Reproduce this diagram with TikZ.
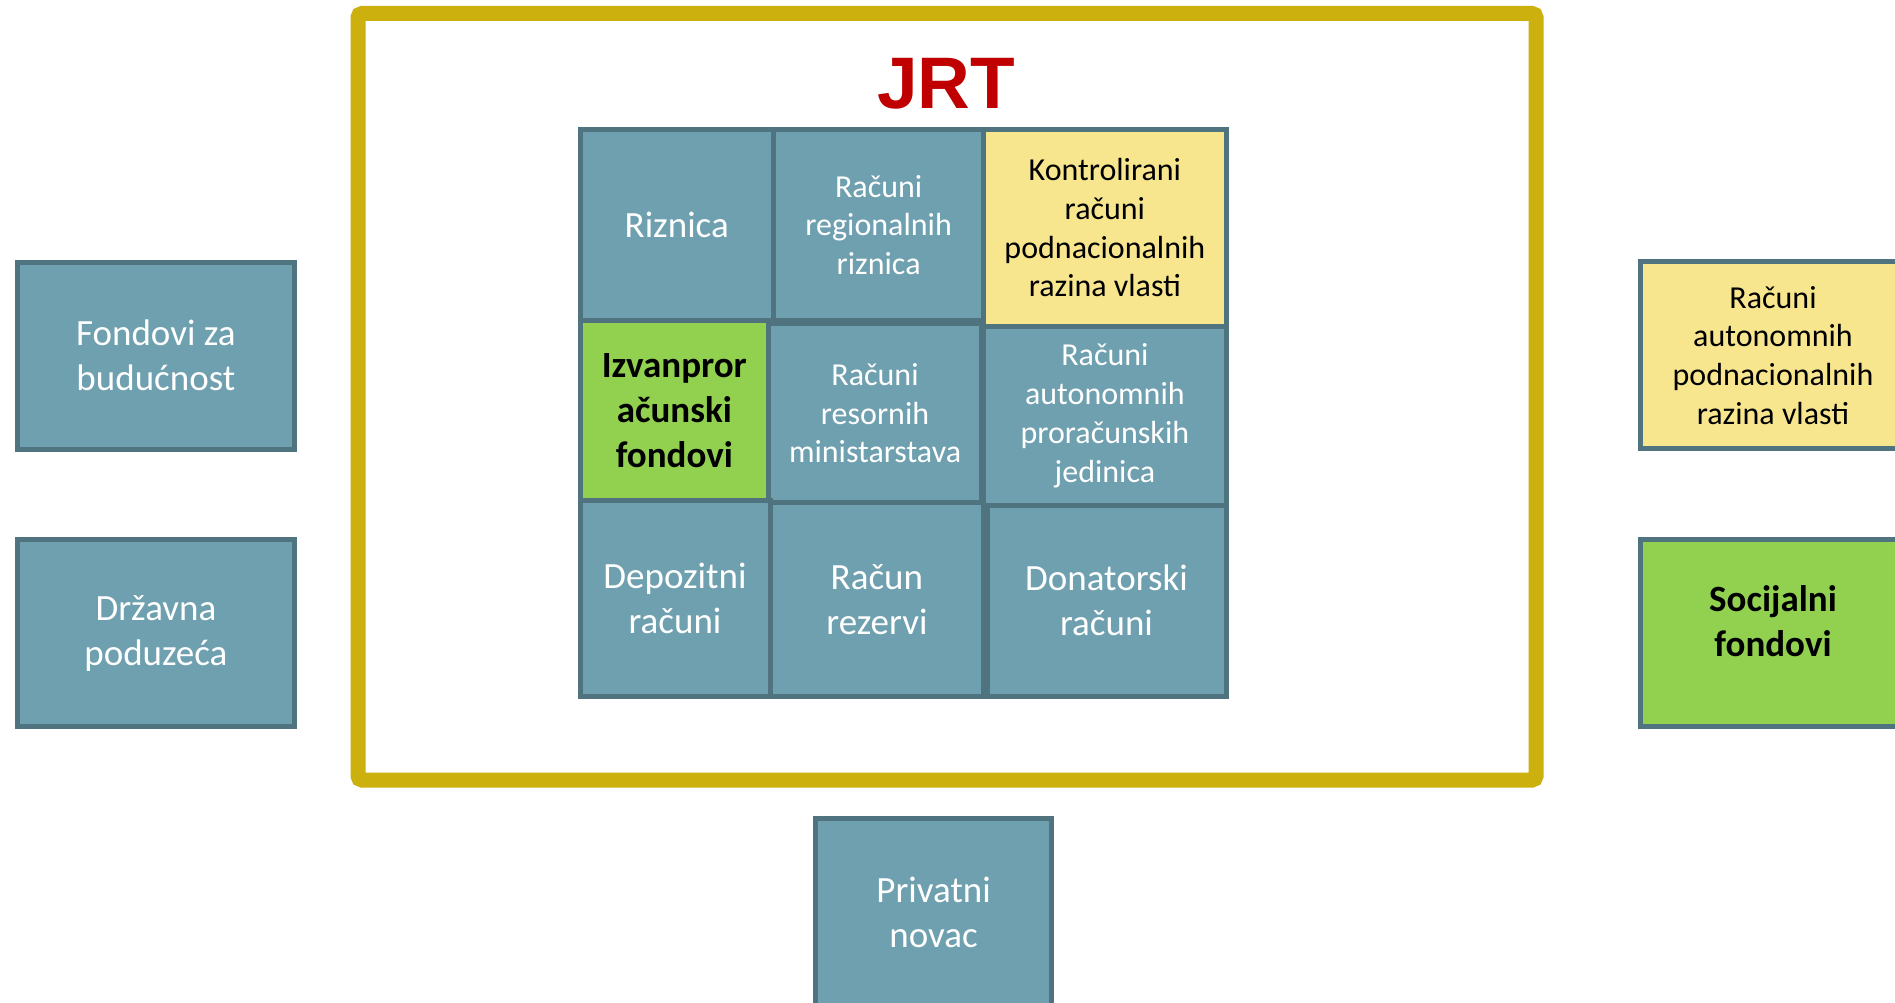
\documentclass[tikz,border=0pt]{standalone}
\usepackage{fontspec}
\setmainfont{Carlito}
\newfontfamily\jrtfont{Liberation Sans}
\definecolor{boxfill}{RGB}{111,160,175}
\definecolor{boxline}{RGB}{79,115,127}
\definecolor{yelfill}{RGB}{247,230,141}
\definecolor{grnfill}{RGB}{146,208,80}
\definecolor{goldline}{RGB}{204,176,13}
\definecolor{jrtred}{RGB}{192,0,0}
\tikzset{
  box/.style={draw=boxline, line width=5pt, fill=boxfill, inner sep=0pt,
    align=center, text=white, font={\fontsize{37}{45}\selectfont}},
  smalltext/.style={font={\fontsize{32}{38.7}\selectfont}},
  yelbox/.style={box, fill=yelfill, text=black},
  grnbox/.style={box, fill=grnfill, text=black, font={\bfseries\fontsize{37}{45}\selectfont}},
  frame/.style={draw=goldline, line width=15pt, rounded corners=4pt, fill=white, inner sep=0pt},
}
\begin{document}
\begin{tikzpicture}[x=1pt,y=-1pt]
\useasboundingbox (0,0) rectangle (1895,1003);
\clip (0,0) rectangle (1895,1003);
\fill[white] (0,0) rectangle (1895,1003);
% gold frame
\node[frame, minimum width=1178pt, minimum height=766.5pt] (jrtframe) at (947,396.75) {};
\node[anchor=base, text=jrtred, font={\jrtfont\bfseries\fontsize{73}{80}\selectfont}, inner sep=0pt] (jrt) at (946,109) {JRT};
% grid cells
\node[box, minimum width=193.5pt, minimum height=190.8pt] (riz) at (676.75,224.9) {Riznica};
\node[box, smalltext, minimum width=210.3pt, minimum height=190.8pt] (rrr) at (878.65,224.9) {Računi\\regionalnih\\riznica};
\node[yelbox, smalltext, minimum width=242.2pt, minimum height=196.8pt] (kon) at (1104.9,227.9) {Kontrolirani\\računi\\podnacionalnih\\razina vlasti};
\node[grnbox, minimum width=188.7pt, minimum height=180.1pt] (izv) at (674.35,410.35) {Izvanpror\\ačunski\\fondovi};
\node[box, smalltext, minimum width=212.7pt, minimum height=178.9pt] (res) at (875.05,413.35) {Računi\\resornih\\ministarstava};
\node[box, smalltext, minimum width=242.2pt, minimum height=178.9pt] (aut) at (1104.9,415.75) {Računi\\autonomnih\\proračunskih\\jedinica};
\node[box, minimum width=190pt, minimum height=195.6pt] (dep) at (675,598.2) {Depozitni\\računi};
\node[box, minimum width=213.8pt, minimum height=193.2pt] (rez) at (876.9,599.4) {Račun\\rezervi};
\node[box, minimum width=239pt, minimum height=190.8pt] (don) at (1106.5,600.6) {Donatorski\\računi};
% outside boxes
\node[box, minimum width=277.8pt, minimum height=187.3pt] (fond) at (155.9,355.7) {Fondovi za\\budućnost};
\node[box, minimum width=277.8pt, minimum height=187.3pt] (drz) at (155.9,633.2) {Državna\\poduzeća};
\node[yelbox, smalltext, minimum width=265.6pt, minimum height=187.3pt] (rap) at (1773,355.2) {Računi\\autonomnih\\podnacionalnih\\razina vlasti};
\node[grnbox, minimum width=265.6pt, minimum height=187.3pt] (soc) at (1773,632.7) {};
\node[align=center, text=black, inner sep=0pt, font={\bfseries\fontsize{37}{45}\selectfont}] (socT) at (1773,621.6) {Socijalni\\fondovi};
\node[box, minimum width=235.5pt, minimum height=187.3pt] (priv) at (933.6,912) {Privatni\\novac};
\end{tikzpicture}
\end{document}
